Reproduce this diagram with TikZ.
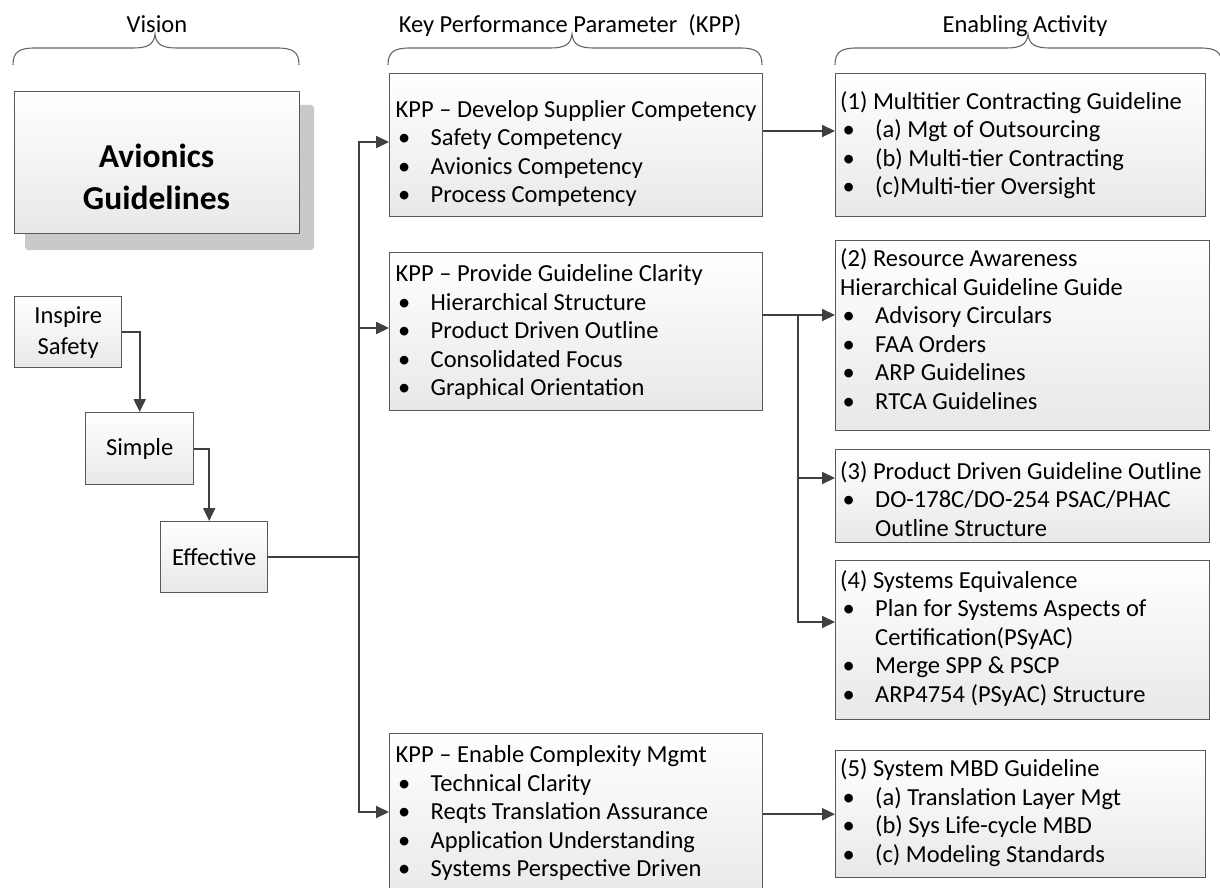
\documentclass[tikz,border=0pt]{standalone}
\usepackage{fontspec}
\setmainfont{Carlito}
\usetikzlibrary{arrows.meta}
\definecolor{linec}{HTML}{404040}
\definecolor{boxc}{HTML}{595959}
\definecolor{bracec}{HTML}{666666}
\definecolor{shadowc}{HTML}{C9C9C9}
\newcommand\bu[1]{\strut\makebox[35pt][l]{\kern2.5pt•}#1}
\newcommand\cn[1]{\strut\hspace*{35pt}#1}
\newcommand\ttl[1]{\strut #1}
\newcommand\mybrace[3]{%
 \draw[brace] (#1,65) .. controls (#1,52) and (#1+6,48) .. (#1+22,48) -- (#2-22,48) .. controls (#2-8,48) and (#2-1,45) .. (#2,34) .. controls (#2+1,45) and (#2+8,48) .. (#2+22,48) -- (#3-22,48) .. controls (#3-6,48) and (#3,52) .. (#3,65);}
\begin{document}
\begin{tikzpicture}[x=1pt,y=-1pt,
 box/.style={draw=boxc, line width=1.4pt, top color=white, bottom color=black!9, anchor=north west, inner sep=0pt},
 txt/.style={anchor=north west, inner sep=0pt, align=left, font=\fontsize{24.5}{28.5}\selectfont},
 lbl/.style={font=\fontsize{24.5}{28.5}\selectfont, anchor=base, inner sep=0pt},
 small/.style={box, minimum width=107pt, minimum height=71pt, align=center, font=\fontsize{24.5}{31}\selectfont},
 conn/.style={draw=linec, line width=2pt, line cap=rect},
 arr/.style={draw=linec, line width=2pt, -{Triangle[length=13pt,width=12pt]}},
 brace/.style={draw=bracec, line width=1.1pt}]
\clip (0,0) rectangle (1220,888);
\fill[white] (0,0) rectangle (1220,888);
% headers
\node[lbl] (hv) at (157,32.5) {Vision};
\node[lbl] (hk) at (570,33) {Key Performance Parameter\ \ (KPP)};
\node[lbl] (he) at (1025,33) {Enabling Activity};
\mybrace{13}{155}{299}
\mybrace{388}{572}{762}
\mybrace{835}{1028}{1222}
% vision
\fill[shadowc, rounded corners=3pt] (25,105) rectangle (314,250);
\node[box, minimum width=285pt, minimum height=142pt] (av) at (14,91) {};
\node[font=\fontsize{33.5}{42}\selectfont\bfseries, align=center, inner sep=0pt] (avt) at (156.5,177) {Avionics\\Guidelines};
\node[small] (insp) at (14,296) {Inspire\\Safety};
\node[small, minimum width=108pt, minimum height=72pt] (simp) at (85,412) {Simple};
\node[small] (eff) at (160,521) {Effective};
% KPP boxes
\node[box, minimum width=373pt, minimum height=143pt] (kpp1) at (389,73) {};
\node[box, minimum width=373pt, minimum height=158pt] (kpp2) at (389,252) {};
\node[box, minimum width=373pt, minimum height=170pt] (kpp3) at (389,733) {};
\node[txt] (kpp1t) at (395.5,97) {\ttl{KPP – Develop Supplier Competency}\\\bu{Safety Competency}\\\bu{Avionics Competency}\\\bu{Process Competency}};
\node[txt] (kpp2t) at (395.5,261.7) {\ttl{KPP – Provide Guideline Clarity}\\\bu{Hierarchical Structure}\\\bu{Product Driven Outline}\\\bu{Consolidated Focus}\\\bu{Graphical Orientation}};
\node[txt] (kpp3t) at (395.5,742.7) {\ttl{KPP – Enable Complexity Mgmt}\\\bu{Technical Clarity}\\\bu{Reqts Translation Assurance}\\\bu{Application Understanding}\\\bu{Systems Perspective Driven}};
% EA boxes
\node[box, minimum width=370pt, minimum height=143pt] (ea1) at (835,73) {};
\node[box, minimum width=374pt, minimum height=190pt] (ea2) at (835,240) {};
\node[box, minimum width=374pt, minimum height=93pt] (ea3) at (835,449) {};
\node[box, minimum width=374pt, minimum height=159pt] (ea4) at (835,560) {};
\node[box, minimum width=370pt, minimum height=127pt] (ea5) at (835,750) {};
\node[txt] (ea1t) at (840,89.3) {\ttl{(1) Multitier Contracting Guideline}\\\bu{(a) Mgt of Outsourcing}\\\bu{(b) Multi-tier Contracting}\\\bu{(c)Multi-tier Oversight}};
\node[txt] (ea2t) at (840,246.7) {\ttl{(2) Resource Awareness}\\\ttl{Hierarchical Guideline Guide}\\\bu{Advisory Circulars}\\\bu{FAA Orders}\\\bu{ARP Guidelines}\\\bu{RTCA Guidelines}};
\node[txt] (ea3t) at (840,459) {\ttl{(3) Product Driven Guideline Outline}\\\bu{DO-178C/DO-254 PSAC/PHAC}\\\cn{Outline Structure}};
\node[txt] (ea4t) at (840,568) {\ttl{(4) Systems Equivalence}\\\bu{Plan for Systems Aspects of}\\\cn{Certification(PSyAC)}\\\bu{Merge SPP \& PSCP}\\\bu{ARP4754 (PSyAC) Structure}};
\node[txt] (ea5t) at (840,756.7) {\ttl{(5) System MBD Guideline}\\\bu{(a) Translation Layer Mgt}\\\bu{(b) Sys Life-cycle MBD}\\\bu{(c) Modeling Standards}};
% connectors
\draw[arr] (insp.east) -| (simp.north);
\draw[arr] (simp.east) -| ([xshift=-5pt]eff.north);
\coordinate (b1t) at (359,142);
\coordinate (b1m) at (359,328);
\coordinate (b1b) at (359,812);
\draw[conn] (eff.east) -- (eff.east -| b1t);
\draw[conn] (b1t) -- (b1b);
\draw[arr] (b1t) -- (b1t -| kpp1.west);
\draw[arr] (b1m) -- (b1m -| kpp2.west);
\draw[arr] (b1b) -- (b1b -| kpp3.west);
\coordinate (c1) at (800,131);
\draw[arr] (kpp1.east |- c1) -- (ea1.west |- c1);
\coordinate (b2a) at (798,315);
\coordinate (b2b) at (798,478);
\coordinate (b2c) at (798,622);
\draw[conn] (kpp2.east |- b2a) -- (b2a) -- (b2c);
\draw[arr] (b2a) -- (b2a -| ea2.west);
\draw[arr] (b2b) -- (b2b -| ea3.west);
\draw[arr] (b2c) -- (b2c -| ea4.west);
\draw[arr] (kpp3.east |- ea5.west) -- (ea5.west);
\end{tikzpicture}
\end{document}
